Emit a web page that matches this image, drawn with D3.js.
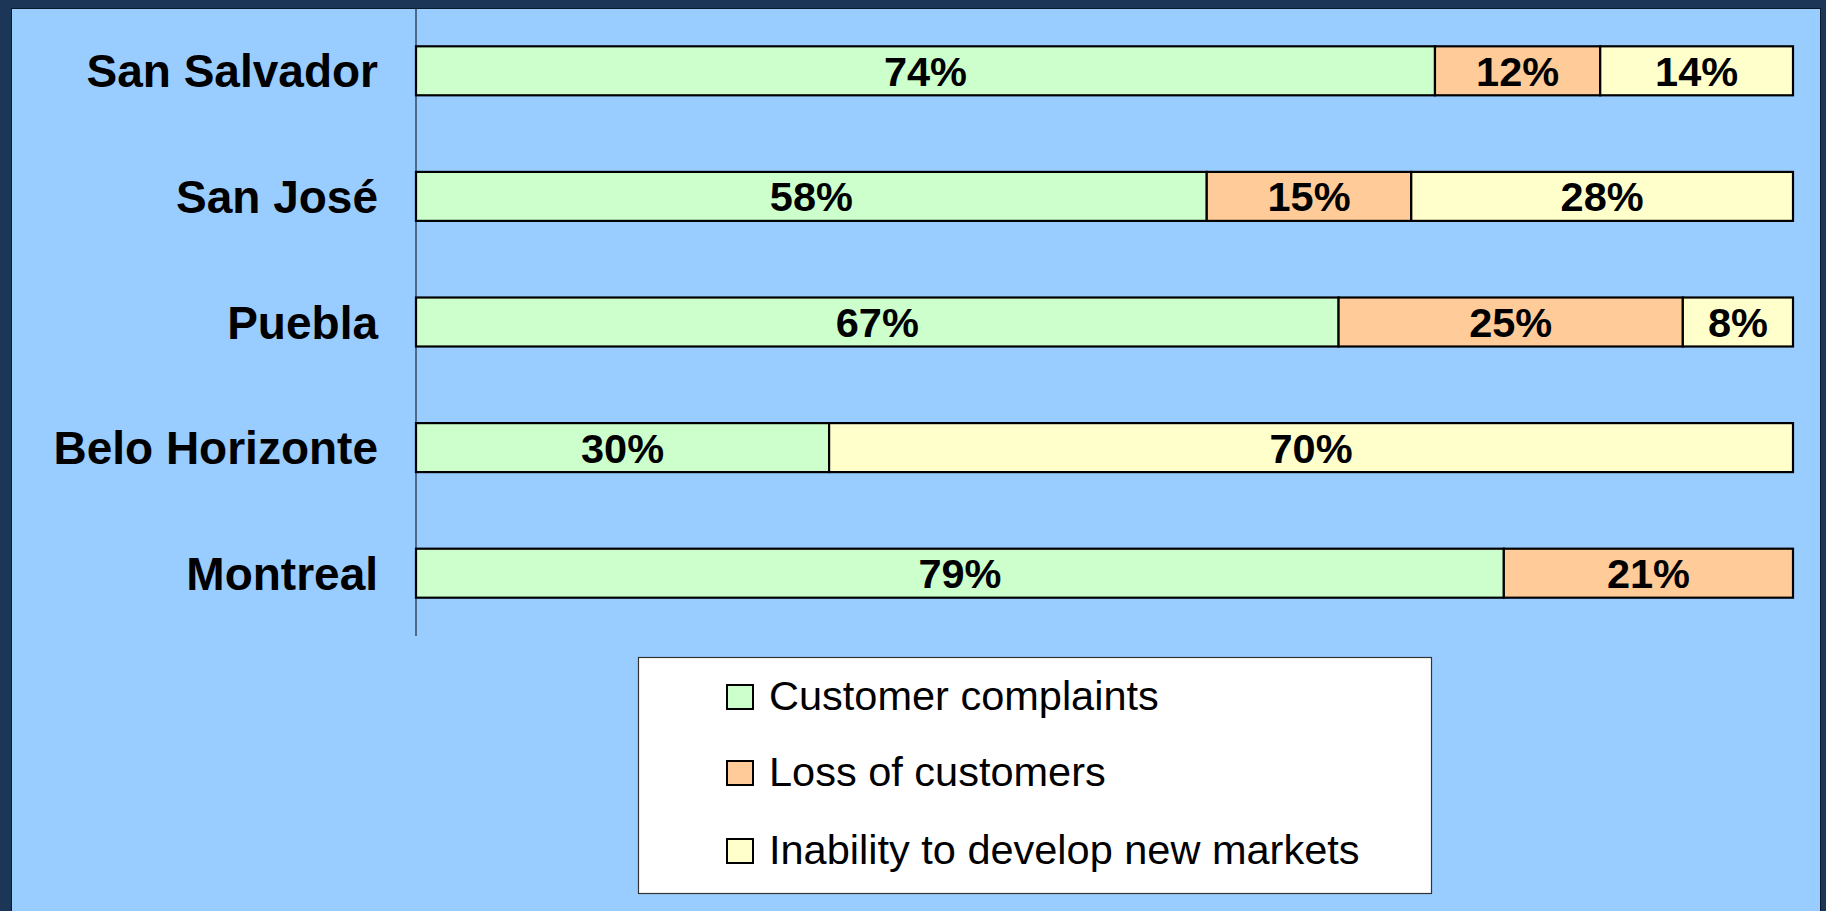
<!DOCTYPE html>
<html>
<head>
<meta charset="utf-8">
<script src="https://cdn.jsdelivr.net/npm/d3@7"></script>
<style>
  html, body { margin: 0; padding: 0; background: #1B3657; }
  svg { display: block; }
  text { font-family: "Liberation Sans", Arial, sans-serif; }
</style>
</head>
<body>
<svg id="chart" width="1826" height="911"></svg>
<script>
const categories = ["San Salvador", "San José", "Puebla", "Belo Horizonte", "Montreal"];
const seriesNames = ["Customer complaints", "Loss of customers", "Inability to develop new markets"];
const complaints = [74, 58, 67, 30, 79];
const lossOfCustomers = [12, 15, 25, 0, 21];
const inability = [14, 28, 8, 70, 0];
const seriesColors = ["#CCFFCC", "#FFCC99", "#FFFFCC"];

const svg = d3.select("#chart");
const W = 1826, H = 911;

// backgrounds
svg.append("rect").attr("x", 0).attr("y", 0).attr("width", W).attr("height", H).attr("fill", "#1B3657");
svg.append("rect").attr("x", 11.5).attr("y", 8.5).attr("width", 1809).attr("height", 910)
  .attr("fill", "#99CCFF").attr("stroke", "#0A1A2A").attr("stroke-width", 1);

const rows = categories.map((c, i) => {
  const vals = [complaints[i], lossOfCustomers[i], inability[i]];
  const total = d3.sum(vals);
  return { cat: c, vals, total };
});

const x = d3.scaleLinear().domain([0, 1]).range([416, 1793]);
const y = d3.scaleBand().domain(categories).range([8, 636]).paddingInner(0.61).paddingOuter(0.305);

// axis line (category axis)
const yAxis = d3.axisLeft(y).tickSize(0).tickPadding(38);
const gAxis = svg.append("g").attr("transform", "translate(416,0)").call(yAxis);
gAxis.select(".domain").attr("stroke", "#1a2a3a").attr("stroke-width", 1.2).attr("d", "M0,8V636");
gAxis.selectAll(".tick text")
  .attr("font-size", 46).attr("font-weight", "bold").attr("fill", "#000")
  .attr("font-family", "'Liberation Sans', Arial, sans-serif")
  .attr("dy", "0.36em");

// bars
rows.forEach(r => {
  let acc = 0;
  r.vals.forEach((v, j) => {
    if (v <= 0) return;
    const x0 = x(acc / r.total), x1 = x((acc + v) / r.total);
    acc += v;
    svg.append("rect")
      .attr("x", x0).attr("y", y(r.cat))
      .attr("width", x1 - x0).attr("height", y.bandwidth())
      .attr("fill", seriesColors[j]).attr("stroke", "#000").attr("stroke-width", 2.2);
    svg.append("text")
      .attr("x", (x0 + x1) / 2).attr("y", y(r.cat) + y.bandwidth() / 2)
      .attr("dy", "0.36em").attr("text-anchor", "middle")
      .attr("font-size", 41.5).attr("font-weight", "bold").attr("fill", "#000")
      .text(v + "%");
  });
});

// legend
const lg = svg.append("g");
lg.append("rect").attr("x", 638.5).attr("y", 657.5).attr("width", 793).attr("height", 236)
  .attr("fill", "#FFFFFF").attr("stroke", "#333", ).attr("stroke-width", 1.2);
const legendBaselines = [710, 786, 864];
seriesNames.forEach((name, j) => {
  const b = legendBaselines[j];
  lg.append("rect").attr("x", 727).attr("y", b - 25).attr("width", 26).attr("height", 24)
    .attr("fill", seriesColors[j]).attr("stroke", "#000").attr("stroke-width", 2);
  lg.append("text").attr("x", 769).attr("y", b)
    .attr("font-size", 41.5).attr("fill", "#000").text(name);
});
</script>
</body>
</html>
